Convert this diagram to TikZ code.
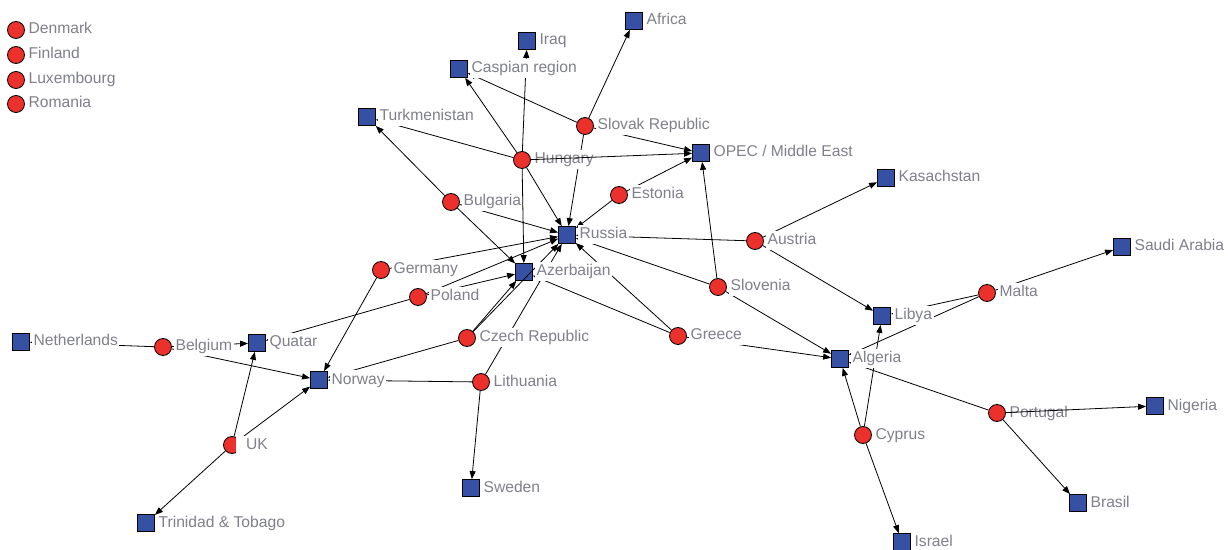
\documentclass[tikz,border=0pt]{standalone}
\usepackage{fontspec}
\setmainfont{Liberation Sans}
\usetikzlibrary{arrows.meta}
\definecolor{nodered}{RGB}{236,48,44}
\definecolor{nodeblue}{RGB}{54,80,164}
\definecolor{labgray}{RGB}{128,128,138}
\newcommand\mylabel[2]{\node[lab] (#1-l) at ([xshift=2bp]#1.east) {#2};}
\begin{document}
\begin{tikzpicture}[x=1bp,y=-1bp,
  cnode/.style={circle, draw=black, fill=nodered, minimum size=17bp, inner sep=0pt, line width=0.8bp},
  snode/.style={rectangle, draw=black, fill=nodeblue, minimum size=17bp, inner sep=0pt, line width=0.8bp},
  lab/.style={anchor=west, fill=white, inner sep=1.5bp, text height=12bp, text depth=4bp, text=labgray, font=\fontsize{15.7}{18}\selectfont},
  edge/.style={-{Triangle[length=8bp,width=6bp]}, line width=0.8bp, draw=black}]
\useasboundingbox (0,0) rectangle (1228,550);
% legend (isolates)
\node[cnode] (den) at (16,30) {};
\node[cnode] (fin) at (16,55) {};
\node[cnode] (lux) at (16,80) {};
\node[cnode] (rom) at (16,104) {};
% circles
\node[cnode] (svk) at (585,126) {};
\node[cnode] (hun) at (522,160) {};
\node[cnode] (bul) at (451,202) {};
\node[cnode] (est) at (619,195) {};
\node[cnode] (aut) at (755,241) {};
\node[cnode] (ger) at (381,270) {};
\node[cnode] (pol) at (418,297) {};
\node[cnode] (slo) at (718,287) {};
\node[cnode] (mlt) at (987,293) {};
\node[cnode] (bel) at (163,347) {};
\node[cnode] (cze) at (467,338) {};
\node[cnode] (gre) at (678,336) {};
\node[cnode] (lit) at (481,382) {};
\node[cnode] (por) at (997,413) {};
\node[cnode] (cyp) at (863,435) {};
\node[cnode] (uk) at (232,445) {};
% squares
\node[snode] (afr) at (634,21) {};
\node[snode] (irq) at (527,41) {};
\node[snode] (cas) at (459,69) {};
\node[snode] (tkm) at (367,117) {};
\node[snode] (opec) at (701,153) {};
\node[snode] (kas) at (886,178) {};
\node[snode] (rus) at (567,235) {};
\node[snode] (aze) at (524,272) {};
\node[snode] (sau) at (1122,247) {};
\node[snode] (lby) at (882,316) {};
\node[snode] (ned) at (21,342) {};
\node[snode] (qat) at (257,343) {};
\node[snode] (alg) at (840,359) {};
\node[snode] (nor) at (319,380) {};
\node[snode] (nig) at (1155,406) {};
\node[snode] (swe) at (471,488) {};
\node[snode] (bra) at (1078,503) {};
\node[snode] (tto) at (146,523) {};
\node[snode] (isr) at (902,542) {};
% edges
\draw[edge] (svk) -- (afr);
\draw[edge] (svk) -- (cas);
\draw[edge] (svk) -- (opec);
\draw[edge] (svk) -- (rus);
\draw[edge] (hun) -- (irq);
\draw[edge] (hun) -- (cas);
\draw[edge] (hun) -- (tkm);
\draw[edge] (hun) -- (rus);
\draw[edge] (hun) -- (aze);
\draw[edge] (bul) -- (tkm);
\draw[edge] (bul) -- (rus);
\draw[edge] (bul) -- (aze);
\draw[edge] (est) -- (rus);
\draw[edge] (est) -- (opec);
\draw[edge] (aut) -- (rus);
\draw[edge] (aut) -- (kas);
\draw[edge] (aut) -- (lby);
\draw[edge] (slo) -- (opec);
\draw[edge] (slo) -- (rus);
\draw[edge] (slo) -- (alg);
\draw[edge] (ger) -- (rus);
\draw[edge] (ger) -- (nor);
\draw[edge] (pol) -- (rus);
\draw[edge] (pol) -- (aze);
\draw[edge] (pol) -- (qat);
\draw[edge] (cze) -- (rus);
\draw[edge] (cze) -- (aze);
\draw[edge] (cze) -- (nor);
\draw[edge] (lit) -- (nor);
\draw[edge] (lit) -- (rus);
\draw[edge] (lit) -- (swe);
\draw[edge] (gre) -- (rus);
\draw[edge] (gre) -- (aze);
\draw[edge] (gre) -- (alg);
\draw[edge] (mlt) -- (sau);
\draw[edge] (mlt) -- (lby);
\draw[edge] (mlt) -- (alg);
\draw[edge] (cyp) -- (lby);
\draw[edge] (cyp) -- (alg);
\draw[edge] (cyp) -- (isr);
\draw[edge] (por) -- (alg);
\draw[edge] (por) -- (bra);
\draw[edge] (bel) -- (ned);
\draw[edge] (bel) -- (qat);
\draw[edge] (bel) -- (nor);
\draw[edge] (uk) -- (qat);
\draw[edge] (uk) -- (nor);
\draw[edge] (uk) -- (tto);
% labels
\mylabel{den}{Denmark}
\mylabel{fin}{Finland}
\mylabel{lux}{Luxembourg}
\mylabel{rom}{Romania}
\mylabel{svk}{Slovak Republic}
\mylabel{hun}{Hungary}
\mylabel{bul}{Bulgaria}
\mylabel{est}{Estonia}
\mylabel{aut}{Austria}
\mylabel{ger}{Germany}
\mylabel{pol}{Poland}
\mylabel{slo}{Slovenia}
\mylabel{mlt}{Malta}
\mylabel{bel}{Belgium}
\mylabel{cze}{Czech Republic}
\mylabel{gre}{Greece}
\mylabel{lit}{Lithuania}
\mylabel{por}{Portugal}
\mylabel{cyp}{Cyprus}
\node[lab, inner xsep=10bp] (uk-l) at ([xshift=-5bp]uk.east) {UK};
\mylabel{afr}{Africa}
\mylabel{irq}{Iraq}
\mylabel{cas}{Caspian region}
\mylabel{tkm}{Turkmenistan}
\mylabel{opec}{OPEC / Middle East}
\mylabel{kas}{Kasachstan}
\mylabel{rus}{Russia}
\mylabel{aze}{Azerbaijan}
\mylabel{sau}{Saudi Arabia}
\mylabel{lby}{Libya}
\mylabel{ned}{Netherlands}
\mylabel{qat}{Quatar}
\mylabel{alg}{Algeria}
\mylabel{nor}{Norway}
\mylabel{nig}{Nigeria}
\mylabel{swe}{Sweden}
\mylabel{bra}{Brasil}
\mylabel{tto}{Trinidad \& Tobago}
\mylabel{isr}{Israel}
% edges drawn over their own labels
\draw[edge] (hun) -- (opec);
\draw[edge] (por) -- (nig);
\end{tikzpicture}
\end{document}
